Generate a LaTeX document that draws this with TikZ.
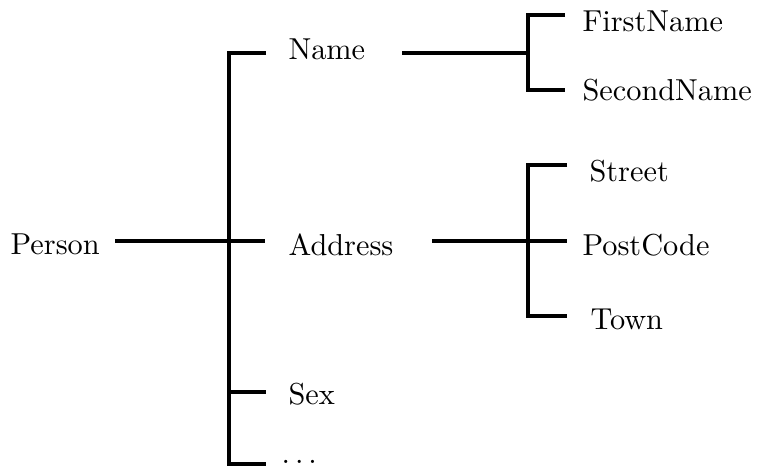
\documentclass[tikz,border=0pt]{standalone}
\begin{document}
\begin{tikzpicture}[x=0.33pt,y=-0.33pt,
  lbl/.style={anchor=base west,inner sep=0pt,font=\fontsize{10pt}{12pt}\selectfont},
  edge/.style={line width=1.1pt,black}]
\useasboundingbox (0,0) rectangle (757,469);
% labels
\node[lbl] (person) at (10,255) {Person};
\node[lbl] (name) at (288,60) {Name};
\node[lbl] (address) at (288,256) {Address};
\node[lbl] (sex) at (288,405) {Sex};
\node[lbl] (more) at (281,464) {$\ldots$};
\node[lbl] (first) at (582,32) {FirstName};
\node[lbl] (second) at (582,101) {SecondName};
\node[lbl] (street) at (589,182) {Street};
\node[lbl] (post) at (582,256) {PostCode};
\node[lbl] (town) at (590,330) {Town};
% junction points
\coordinate (p0) at (115,241);
\coordinate (a0) at (265,241);
\coordinate (j1t) at (229,53);
\coordinate (n0) at (266,53);
\coordinate (sx) at (229,392);
\coordinate (sx0) at (266,392);
\coordinate (j1b) at (229,464);
\coordinate (m0) at (266,464);
\coordinate (n1) at (402,53);
\coordinate (j2) at (528,53);
\coordinate (j2t) at (528,15);
\coordinate (f0) at (565,15);
\coordinate (j2b) at (528,90);
\coordinate (s0) at (565,90);
\coordinate (a1) at (432,241);
\coordinate (p1) at (567,241);
\coordinate (j3t) at (528,165);
\coordinate (st0) at (567,165);
\coordinate (j3b) at (528,316);
\coordinate (t0) at (567,316);
% connectors
\draw[edge] (p0) -- (a0);
\draw[edge] (n0) -- (j1t) -- (j1b) -- (m0);
\draw[edge] (sx) -- (sx0);
\draw[edge] (n1) -- (j2);
\draw[edge] (f0) -- (j2t) -- (j2b) -- (s0);
\draw[edge] (a1) -- (p1);
\draw[edge] (st0) -- (j3t) -- (j3b) -- (t0);
\end{tikzpicture}
\end{document}
